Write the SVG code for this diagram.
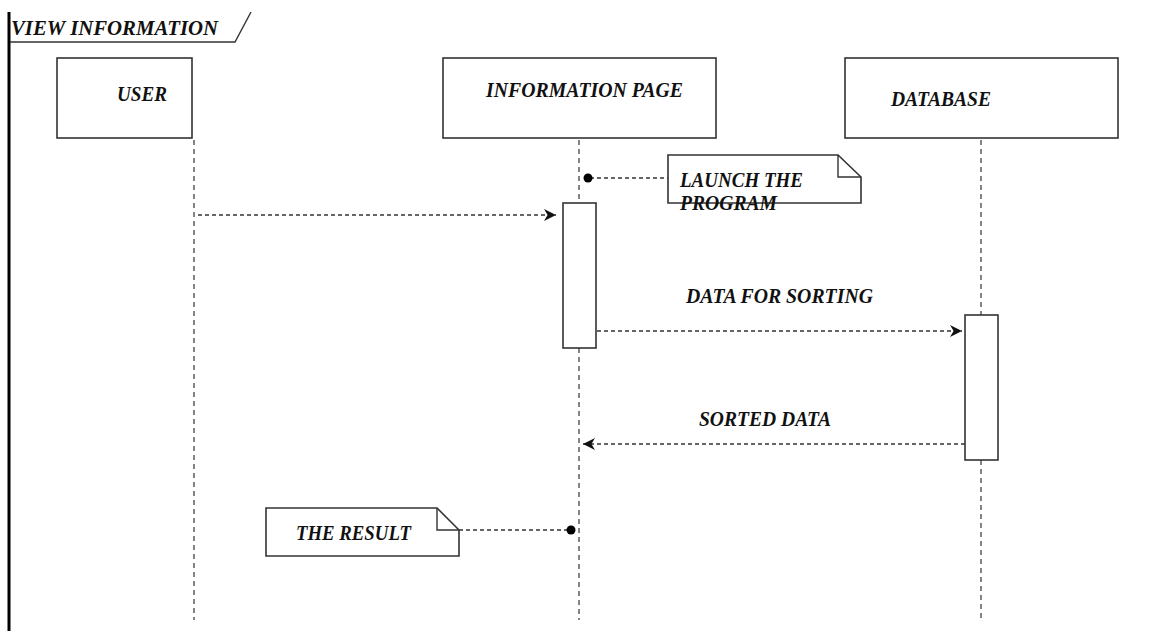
<svg xmlns="http://www.w3.org/2000/svg" width="1174" height="631" viewBox="0 0 1174 631">
<defs>
<style>
.t{font-family:"Liberation Serif","Times New Roman",serif;font-weight:bold;font-style:italic;font-size:20.5px;fill:#111;}
.box{fill:#fff;stroke:#333;stroke-width:1.6;}
.life{stroke:#333;stroke-width:1.2;stroke-dasharray:5,4;fill:none;}
.msg{stroke:#333;stroke-width:1.4;stroke-dasharray:4,3;fill:none;}
</style>
<marker id="arr" viewBox="0 0 10 10" refX="10" refY="5" markerWidth="12" markerHeight="12" markerUnits="userSpaceOnUse" orient="auto">
<path d="M0,0 L10,5 L0,10 L3,5 Z" fill="#111"/>
</marker>
</defs>
<rect width="1174" height="631" fill="#fff"/>
<g id="frame">
<line x1="9" y1="12" x2="9" y2="631" stroke="#000" stroke-width="3"/>
<polyline points="10,42 235,42 251,12" fill="none" stroke="#333" stroke-width="1.4"/>
<text class="t" x="11" y="35" textLength="207" lengthAdjust="spacingAndGlyphs">VIEW INFORMATION</text>
</g>
<g id="connectors">
<line class="life" x1="194" y1="140" x2="194" y2="620"/>
<line class="life" x1="579" y1="140" x2="579" y2="203"/>
<line class="life" x1="579" y1="348" x2="579" y2="620"/>
<line class="life" x1="981" y1="140" x2="981" y2="315"/>
<line class="life" x1="981" y1="460" x2="981" y2="620"/>
<line class="msg" x1="198" y1="215" x2="556" y2="215" marker-end="url(#arr)"/>
<line class="msg" x1="597" y1="331" x2="962" y2="331" marker-end="url(#arr)"/>
<line class="msg" x1="965" y1="444" x2="583" y2="444" marker-end="url(#arr)"/>
<line class="msg" x1="590" y1="178" x2="668" y2="178"/>
<circle cx="588" cy="178" r="4.5" fill="#000"/>
<line class="msg" x1="459" y1="530" x2="568" y2="530"/>
<circle cx="571" cy="530" r="4.5" fill="#000"/>
</g>
<g id="user">
<rect class="box" x="57" y="58" width="135" height="80"/>
<text class="t" x="117" y="101" textLength="50" lengthAdjust="spacingAndGlyphs">USER</text>
</g>
<g id="information-page">
<rect class="box" x="443" y="58" width="273" height="80"/>
<text class="t" x="486" y="97" textLength="197" lengthAdjust="spacingAndGlyphs">INFORMATION PAGE</text>
</g>
<g id="database">
<rect class="box" x="845" y="58" width="273" height="80"/>
<text class="t" x="891" y="106" textLength="100" lengthAdjust="spacingAndGlyphs">DATABASE</text>
</g>
<g id="info-activation">
<rect class="box" x="563" y="203" width="33" height="145"/>
</g>
<g id="db-activation">
<rect class="box" x="965" y="315" width="33" height="145"/>
</g>
<g id="note-launch">
<path class="box" d="M668,155 H838 L861,177 V203 H668 Z"/>
<path d="M838,155 V177 H861" fill="none" stroke="#333" stroke-width="1.4"/>
<text class="t" x="680" y="187" textLength="123" lengthAdjust="spacingAndGlyphs">LAUNCH THE</text>
<text class="t" x="680" y="210" textLength="97" lengthAdjust="spacingAndGlyphs">PROGRAM</text>
</g>
<g id="msg-labels">
<text class="t" x="686" y="303" textLength="187" lengthAdjust="spacingAndGlyphs">DATA FOR SORTING</text>
<text class="t" x="699" y="426" textLength="132" lengthAdjust="spacingAndGlyphs">SORTED DATA</text>
</g>
<g id="note-result">
<path class="box" d="M266,508 H437 L459,530 V556 H266 Z"/>
<path d="M437,508 V530 H459" fill="none" stroke="#333" stroke-width="1.4"/>
<text class="t" x="296" y="540" textLength="115" lengthAdjust="spacingAndGlyphs">THE RESULT</text>
</g>
</svg>
